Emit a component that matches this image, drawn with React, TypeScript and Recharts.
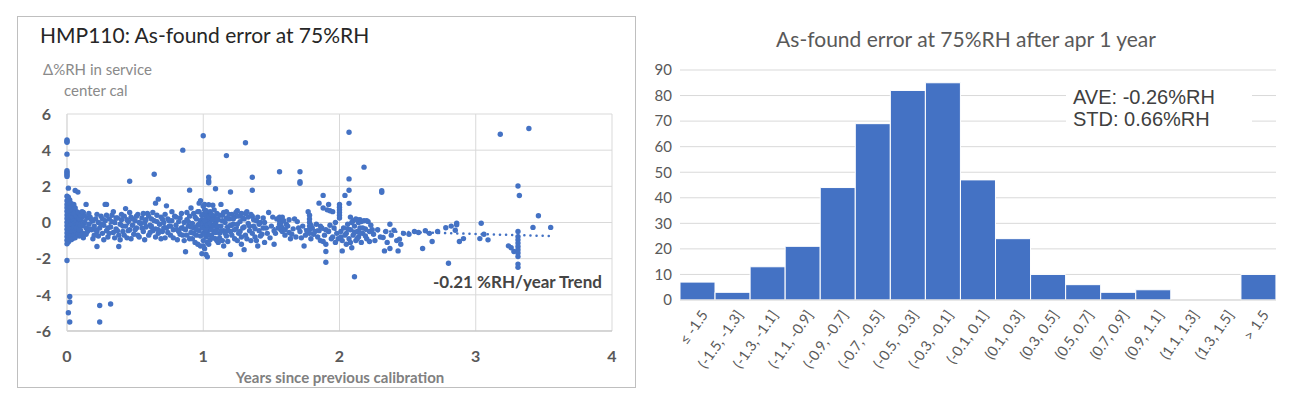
import React from 'react'
import { ScatterChart, Scatter, BarChart, Bar, XAxis, YAxis, CartesianGrid } from 'recharts'

// scatter readings [years since previous cal, delta %RH]
const atZero: [number, number][] = [
  [0, 4.57], [0, 4.5], [0, 4.44], [0, 3.78], [0, 2.86], [0, 2.78], [0, 2.7], [0, 2.62], [0, 2.55],
  [0.01, 1.9], [0, 1.45], [0.01, 1.32], [0, 1.2], [0.01, 1.1], [0, 1.0], [0.01, 0.92], [0, 0.82],
  [0.01, 0.72], [0, 0.62], [0.01, 0.52], [0, 0.42], [0.01, 0.32], [0, 0.22], [0.01, 0.12], [0, 0.02],
  [0.01, -0.08], [0, -0.18], [0.01, -0.28], [0, -0.38], [0.01, -0.48], [0, -0.58], [0.01, -0.68],
  [0, -0.78], [0.01, -0.88], [0, -0.98], [0.01, -1.08], [0, -1.18], [0, -2.1],
  [0.02, -4.09], [0.02, -4.4], [0.01, -4.99], [0.02, -5.5],
  [0.02, 1.25], [0.03, 1.05], [0.02, 0.85], [0.03, 0.65], [0.02, 0.45], [0.03, 0.25], [0.02, 0.05],
  [0.03, -0.15], [0.02, -0.35], [0.03, -0.55], [0.02, -0.75], [0.03, -0.95], [0.04, 0.9], [0.04, 0.5],
  [0.04, 0.1], [0.04, -0.3], [0.04, -0.7], [0.05, 0.7], [0.05, 0.3], [0.05, -0.1], [0.05, -0.5],
  [0.06, 1.77], [0.08, 1.68], [0.06, 0.4], [0.06, -0.2], [0.07, 0.6], [0.07, 0.0], [0.07, -0.6],
  [0.08, 0.2], [0.08, -0.35], [0.09, 0.45], [0.09, -0.05], [0.09, -0.75], [0.1, 0.15], [0.1, -0.45],
  [0.11, 0.3], [0.11, -0.2], [0.12, 0.55], [0.12, -0.1], [0.12, -0.6], [0.13, 0.05], [0.14, 1.0],
  [0.14, -0.3], [0.15, 0.25], [0.15, -0.5],
  [0.01, 1.4], [0.02, 1.05], [0.01, 0.0], [0.02, 0.6], [0.02, -0.15], [0.03, 0.85], [0.03, 0.4],
  [0.03, -0.35], [0.03, -0.75], [0.04, 0.7], [0.04, 0.3], [0.04, -0.1], [0.04, -0.5], [0.04, -0.9],
  [0.05, 1.0], [0.05, 0.5], [0.05, 0.1], [0.05, -0.3], [0.05, -0.7], [0.06, 0.8], [0.06, 0.0],
  [0.06, -0.45], [0.06, -0.85], [0.07, 0.35], [0.07, -0.3], [0.08, 0.55], [0.08, -0.1], [0.08, -0.65],
  [0.09, 0.2], [0.09, -0.4], [0.1, 0.4], [0.1, -0.15], [0.1, -0.7],
]

const firstYear: [number, number][] = [
  [0.16, -0.1], [0.17, 0.3], [0.18, -0.4], [0.19, 0.1], [0.2, -0.7], [0.2, -0.2], [0.21, 0.2],
  [0.22, -1.33], [0.22, -0.5], [0.23, 0.0], [0.24, -0.3], [0.24, -4.59], [0.24, -5.5], [0.25, 0.35],
  [0.26, -0.6], [0.27, -0.15], [0.28, 1.0], [0.29, 1.0], [0.28, 0.1], [0.29, -0.45], [0.3, -0.8],
  [0.31, 0.2], [0.32, -4.51], [0.32, -0.25], [0.33, 0.4], [0.34, -0.55], [0.35, 0.0], [0.36, -0.35],
  [0.37, 0.25], [0.38, -1.33], [0.38, -0.7], [0.39, -0.1], [0.4, 0.15], [0.41, -0.5], [0.42, 0.35],
  [0.43, 0.77], [0.43, -0.2], [0.44, -0.85], [0.45, 0.05], [0.46, 2.28], [0.46, -0.4], [0.47, 0.3],
  [0.48, -0.15], [0.49, -0.65], [0.5, 0.1], [0.51, -0.3], [0.52, 0.45], [0.53, -0.8], [0.54, -0.05],
  [0.55, 0.25], [0.56, -0.5], [0.57, 0.0], [0.58, -0.25], [0.59, 0.5], [0.6, -0.7], [0.61, -0.15],
  [0.62, 0.2], [0.63, -0.45], [0.64, 2.67], [0.64, 0.1], [0.65, 1.07], [0.65, -0.35], [0.66, 0.4],
  [0.67, 1.29], [0.67, -0.6], [0.68, -0.1], [0.69, 0.3], [0.7, -0.5], [0.71, 0.0], [0.72, -0.85],
  [0.73, 0.92], [0.73, -0.3], [0.74, 0.2], [0.75, -0.2], [0.76, -0.7], [0.77, 0.1], [0.78, -0.4],
  [0.79, 0.35], [0.8, -0.15], [0.81, -0.95], [0.82, -0.5], [0.83, 0.25], [0.84, -0.3], [0.85, 4.0],
  [0.85, -0.7], [0.86, 0.0], [0.87, -1.62], [0.87, -0.4], [0.88, 0.15], [0.89, -0.2], [0.9, 1.79],
  [0.9, -0.9], [0.9, 0.35], [0.91, -0.55], [0.92, -0.05], [0.93, 0.5], [0.93, -0.3], [0.94, -1.1],
  [0.95, 0.2], [0.95, -0.7], [0.96, -0.15], [0.97, 1.07], [0.97, 0.6], [0.97, -0.45], [0.98, 0.1],
  [0.98, -1.3], [0.99, -1.73], [0.99, -0.25], [0.99, 0.4],
  [0.11, 0.6], [0.12, -0.85], [0.13, 0.35], [0.14, -0.65], [0.16, 0.5], [0.17, -0.35], [0.18, 0.15],
  [0.19, -0.9], [0.21, -0.4], [0.22, 0.45], [0.23, -0.75], [0.25, -0.1], [0.26, 0.2], [0.27, -0.95],
  [0.29, 0.4], [0.3, -0.3], [0.31, -0.6], [0.33, 0.05], [0.34, 0.6], [0.35, -0.85], [0.36, 0.25],
  [0.37, -0.45], [0.39, -0.95], [0.4, 0.45], [0.41, -0.2], [0.42, -0.7], [0.44, 0.15], [0.45, -0.45],
  [0.46, 0.55], [0.47, -0.9], [0.48, 0.2], [0.5, -0.4], [0.51, 0.35], [0.52, -0.7], [0.53, 0.0],
  [0.55, -0.3], [0.56, 0.5], [0.57, -0.95], [0.58, 0.15], [0.6, 0.35], [0.61, -0.55], [0.62, -0.25],
  [0.63, 0.55], [0.65, -0.8], [0.66, 0.05], [0.67, -0.4], [0.69, -0.9], [0.7, 0.2], [0.71, -0.3],
  [0.72, 0.45], [0.74, -0.55], [0.75, 0.1], [0.76, -0.2], [0.77, 0.6], [0.78, -0.85], [0.8, 0.3],
  [0.81, -0.4], [0.82, 0.05], [0.83, -0.65], [0.84, 0.5], [0.86, -1.0], [0.86, -0.35], [0.88, -0.7],
  [0.88, 0.55], [0.89, 0.05], [0.91, -0.25], [0.91, 0.8], [0.92, -0.9], [0.93, -0.6], [0.94, 0.3],
  [0.95, -0.4], [0.96, 0.6], [0.96, -1.2], [0.97, -0.1], [0.98, -0.75], [0.98, 1.2], [0.99, 0.15],
]

const secondYear: [number, number][] = [
  [1.0, 4.8], [1.0, 0.9], [1.0, 0.0], [1.0, -0.6], [1.0, -1.0], [1.01, 0.7], [1.01, -0.35],
  [1.01, -1.45], [1.02, 0.3], [1.02, -0.1], [1.02, -0.8], [1.02, -1.77], [1.03, -1.9], [1.03, 0.5],
  [1.03, -0.5], [1.04, 2.5], [1.04, 2.3], [1.04, 2.2], [1.04, 0.98], [1.04, 0.1], [1.04, -1.2],
  [1.05, -0.3], [1.05, 0.6], [1.06, -0.7], [1.06, 0.2], [1.07, -0.15], [1.07, 0.95], [1.08, -0.5],
  [1.08, 0.35], [1.09, 1.87], [1.09, -0.9], [1.09, 0.0], [1.1, -0.35], [1.1, 0.5], [1.11, -1.1],
  [1.11, 0.15], [1.12, -0.6], [1.13, 1.0], [1.13, -0.2], [1.14, 0.4], [1.15, -0.45], [1.15, -1.3],
  [1.16, 0.0], [1.17, 3.7], [1.17, -0.75], [1.17, 0.6], [1.18, -0.25], [1.19, 0.2], [1.2, 1.69],
  [1.2, -1.77], [1.2, -0.5], [1.21, 0.45], [1.22, -0.1], [1.23, -0.9], [1.23, 0.3], [1.24, -0.35],
  [1.25, 0.65], [1.26, -0.6], [1.27, 0.05], [1.28, -1.2], [1.28, 0.5], [1.29, -0.3], [1.3, -1.5],
  [1.3, 0.2], [1.31, 4.41], [1.31, -0.7], [1.32, 0.6], [1.33, -0.05], [1.34, -0.45], [1.35, -1.0],
  [1.36, 2.5], [1.36, 1.78], [1.36, 0.35], [1.37, -0.2], [1.38, -0.8], [1.39, 0.1], [1.4, -1.3],
  [1.41, -0.45], [1.42, 0.0], [1.43, -0.65], [1.44, 0.25], [1.45, -1.1], [1.46, -0.3], [1.48, 0.55],
  [1.49, -0.85], [1.5, -0.2], [1.52, -1.2], [1.53, -0.6], [1.54, 0.2], [1.56, 2.81], [1.56, 0.3],
  [1.56, 0.1], [1.56, -0.1], [1.57, 0.2], [1.57, 0.0], [1.57, -0.2], [1.57, -0.4], [1.58, 0.3],
  [1.58, -0.3], [1.58, -0.5], [1.6, -0.7], [1.61, -0.1], [1.63, -0.55], [1.63, 0.15], [1.64, -0.9],
  [1.66, -0.35], [1.68, -0.8], [1.69, 0.05], [1.71, 2.81], [1.71, 2.26], [1.71, 2.17], [1.71, -0.5],
  [1.73, -0.2], [1.74, -1.3], [1.75, -0.7], [1.77, 0.6], [1.78, 0.4], [1.78, 0.2], [1.78, 0.0],
  [1.78, -0.2], [1.78, -0.4], [1.78, -0.6], [1.79, -0.9], [1.8, -0.3], [1.81, -0.65], [1.83, -0.1],
  [1.84, -0.8], [1.85, 1.07], [1.85, -0.45], [1.86, -1.0], [1.87, -0.3], [1.88, 1.5], [1.88, 0.8],
  [1.89, -0.7], [1.9, -1.6], [1.9, -2.2], [1.9, -1.2], [1.91, 0.7], [1.92, 1.0], [1.92, -0.5],
  [1.93, 0.65], [1.94, -0.9], [1.95, 0.6], [1.96, -0.3], [1.97, -1.1], [1.98, -0.6],
  [1.0, -0.3], [1.0, 0.45], [1.0, -1.3], [1.01, 0.1], [1.01, -0.65], [1.01, 1.0], [1.02, -0.4],
  [1.02, 0.65], [1.03, -0.15], [1.03, -1.1], [1.04, 0.35], [1.04, -0.7], [1.05, -0.05], [1.05, -0.95],
  [1.06, 0.45], [1.06, -0.4], [1.07, 0.15], [1.07, -0.85], [1.08, -0.2], [1.08, 0.7], [1.09, -0.55],
  [1.1, 0.2], [1.1, -1.0], [1.11, -0.2], [1.12, 0.4], [1.12, -0.85], [1.13, -0.45], [1.14, 0.1],
  [1.14, -1.0], [1.15, 0.55], [1.16, -0.6], [1.17, 0.25], [1.18, -0.45], [1.18, -1.05], [1.19, 0.45],
  [1.2, -0.15], [1.21, -0.7], [1.22, 0.2], [1.23, -0.4], [1.24, 0.55], [1.25, -1.0], [1.25, -0.1],
  [1.26, 0.35], [1.27, -0.5], [1.28, -0.8], [1.29, 0.25], [1.3, -0.25], [1.31, 0.5], [1.32, -0.9],
  [1.33, 0.3], [1.34, -0.2], [1.35, 0.45], [1.36, -0.6], [1.37, 0.15], [1.38, -0.35], [1.39, -1.0],
  [1.4, 0.3], [1.41, -0.1], [1.42, -0.75], [1.44, -0.3], [1.45, 0.0], [1.47, -0.6],
  [1.51, 0.3], [1.52, -0.45], [1.55, -0.3], [1.59, 0.1], [1.6, -0.4], [1.62, -0.2], [1.65, -0.65],
  [1.67, 0.2], [1.7, -0.3], [1.72, -0.85], [1.76, -0.45], [1.79, -0.15], [1.82, -0.5], [1.86, -0.2],
  [1.88, -1.05], [1.9, -0.4], [1.93, -0.15], [1.95, -0.8], [1.97, 0.0], [1.99, -0.9],
]

const laterYears: [number, number][] = [
  [2.0, 1.0], [2.0, 0.85], [2.0, 0.7], [2.0, 0.55], [2.0, 0.4], [2.0, 0.25], [2.01, -0.5],
  [2.01, -0.8], [2.02, -1.0], [2.02, -1.57], [2.03, -0.3], [2.04, 1.5], [2.05, -0.6], [2.05, -1.2],
  [2.06, -0.1], [2.07, 4.99], [2.07, 2.41], [2.07, 1.78], [2.07, 1.06], [2.07, -0.9], [2.08, 0.3],
  [2.08, -0.4], [2.09, -1.4], [2.1, 0.1], [2.1, -0.7], [2.11, -3.0], [2.11, -0.2], [2.12, 0.2],
  [2.12, -1.0], [2.13, -0.5], [2.14, 0.0], [2.14, -0.8], [2.15, 0.15], [2.15, -0.3], [2.16, -1.1],
  [2.17, -0.6], [2.18, 3.06], [2.18, 0.1], [2.19, -0.35], [2.2, -0.9], [2.21, 0.05], [2.22, -0.5],
  [2.23, -0.15], [2.25, -0.65], [2.26, -1.0], [2.28, -0.4], [2.3, -0.8], [2.31, 1.76], [2.31, 1.67],
  [2.32, -0.83], [2.33, -1.57], [2.34, -0.5], [2.35, -1.1], [2.37, -1.44], [2.37, -0.1], [2.38, -0.7],
  [2.4, -0.43], [2.42, -1.0], [2.43, -1.57], [2.44, -0.92], [2.45, -1.2], [2.47, -0.6], [2.51, -0.65],
  [2.55, -0.5], [2.58, -0.55], [2.61, -1.44], [2.63, -0.45], [2.66, -0.6], [2.68, -1.05], [2.72, -0.5],
  [2.78, -0.29], [2.8, -2.25], [2.82, -0.2], [2.85, -0.43], [2.86, -0.04], [2.86, -0.13], [2.88, -1.05],
  [2.91, -0.89], [3.03, -0.89], [3.04, -0.04], [3.06, -0.65], [3.09, -0.96], [3.18, 4.88], [3.24, -1.29],
  [3.26, -1.4], [3.28, -1.6], [3.31, 2.02], [3.32, 1.49], [3.31, -0.5], [3.31, -0.78], [3.31, -0.96],
  [3.31, -1.14], [3.31, -1.33], [3.31, -1.51], [3.31, -1.69], [3.31, -1.88], [3.31, -2.3], [3.31, -2.48],
  [3.39, 5.2], [3.42, -0.27], [3.46, 0.37], [3.55, -0.27],
  [2.04, -0.7], [2.06, -0.35], [2.08, -1.1], [2.09, 0.0], [2.11, -0.55], [2.13, 0.15], [2.13, -0.9],
  [2.15, -0.6], [2.16, 0.05], [2.17, -0.3], [2.19, -0.75], [2.2, 0.1], [2.22, -1.05], [2.24, -0.4],
]

// linear trend, -0.21 %RH/year
const trendEnds: [number, number][] = [[0, 0], [3.55, -0.75]]

const yearTicks = [0, 1, 2, 3, 4]
const errorTicks = [-6, -4, -2, 0, 2, 4, 6]

// histogram
const binLabels = [
  '≤ -1.5', '(-1.5, -1.3]', '(-1.3, -1.1]', '(-1.1, -0.9]', '(-0.9, -0.7]', '(-0.7, -0.5]',
  '(-0.5, -0.3]', '(-0.3, -0.1]', '(-0.1, 0.1]', '(0.1, 0.3]', '(0.3, 0.5]', '(0.5, 0.7]',
  '(0.7, 0.9]', '(0.9, 1.1]', '(1.1, 1.3]', '(1.3, 1.5]', '> 1.5',
]
const binCounts = [7, 3, 13, 21, 44, 69, 82, 85, 47, 24, 10, 6, 3, 4, 0, 0, 10]
const countTicks = [0, 10, 20, 30, 40, 50, 60, 70, 80, 90]

const BLUE = '#4472C4'

const toPoints = (rows: [number, number][]) => rows.map(([x, y]) => ({ x, y }))
const scatterData = toPoints([...atZero, ...firstYear, ...secondYear, ...laterYears])
const histData = binLabels.map((bin, i) => ({ bin, count: binCounts[i] }))

const Dot = (props: any) => <circle cx={props.cx} cy={props.cy} r={2.7} fill={BLUE} />

const BinTick = (props: any) => {
  const { x, y, payload } = props
  return (
    <g transform={`translate(${x + 7},${y + 4})`}>
      <text x={0} y={0} dy="0.35em" textAnchor="end" transform="rotate(-55)" fill="#595959" fontSize={14.5}>
        {payload.value}
      </text>
    </g>
  )
}

export default function App() {
  return (
    <div style={{ position: 'absolute', left: 0, top: 0, width: 1300, height: 400, background: '#fff', fontFamily: 'Lato, sans-serif' }}>
      {/* left panel */}
      <div style={{ position: 'absolute', left: 17, top: 16, width: 619, height: 372, border: '1px solid #bfbfbf', boxSizing: 'border-box' }} />
      <div style={{ position: 'absolute', left: 0, top: 0 }}>
        <ScatterChart width={640} height={400} margin={{ top: 114, right: 28, bottom: 39, left: 27 }}>
          <CartesianGrid stroke="#d9d9d9" />
          <XAxis
            type="number"
            dataKey="x"
            domain={[0, 4]}
            ticks={yearTicks}
            height={30}
            tickLine={false}
            tickMargin={14}
            axisLine={{ stroke: '#bfbfbf' }}
            tick={{ fill: '#595959', fontSize: 16, fontWeight: 700 }}
          />
          <YAxis
            type="number"
            dataKey="y"
            domain={[-6, 6]}
            ticks={errorTicks}
            width={40}
            tickLine={false}
            tickMargin={10}
            axisLine={{ stroke: '#d9d9d9' }}
            tick={{ fill: '#595959', fontSize: 16, fontWeight: 700 }}
          />
          <Scatter data={scatterData} shape={Dot} isAnimationActive={false} />
          <Scatter
            data={toPoints(trendEnds)}
            line={{ stroke: BLUE, strokeWidth: 2.5, strokeDasharray: '0.1 6', strokeLinecap: 'round' }}
            shape={() => <g />}
            isAnimationActive={false}
          />
        </ScatterChart>
      </div>
      <div style={{ position: 'absolute', left: 40, top: 22, fontSize: 21, lineHeight: '26px', color: '#262626' }}>
        HMP110: As-found error at 75%RH
      </div>
      <div style={{ position: 'absolute', left: 43, top: 59, fontSize: 15, lineHeight: '21px', color: '#8a8a8a' }}>
        Δ%RH in service
      </div>
      <div style={{ position: 'absolute', left: 64, top: 80, fontSize: 15, lineHeight: '21px', color: '#8a8a8a' }}>
        center cal
      </div>
      <div style={{ position: 'absolute', left: 433, top: 271, fontSize: 17, lineHeight: '22px', color: '#454545', fontWeight: 700 }}>
        -0.21 %RH/year Trend
      </div>
      <div style={{ position: 'absolute', left: 140, top: 366, width: 400, textAlign: 'center', fontSize: 15, lineHeight: '22px', color: '#808080', fontWeight: 700 }}>
        Years since previous calibration
      </div>

      {/* right panel */}
      <div style={{ position: 'absolute', left: 766, top: 26, width: 400, textAlign: 'center', fontSize: 21, lineHeight: '26px', color: '#595959' }}>
        As-found error at 75%RH after apr 1 year
      </div>
      <div style={{ position: 'absolute', left: 640, top: 0 }}>
        <BarChart width={660} height={400} data={histData} barCategoryGap={0} margin={{ top: 70, right: 24, bottom: 0, left: 10 }}>
          <CartesianGrid stroke="#d9d9d9" vertical={false} />
          <XAxis dataKey="bin" interval={0} height={100} tickLine={false} axisLine={{ stroke: '#d9d9d9' }} tick={<BinTick />} />
          <YAxis
            domain={[0, 90]}
            ticks={countTicks}
            width={30}
            tickLine={false}
            axisLine={false}
            tick={{ fill: '#595959', fontSize: 15 }}
          />
          <Bar dataKey="count" fill={BLUE} stroke="#ffffff" strokeWidth={1} isAnimationActive={false} />
        </BarChart>
      </div>
      <div style={{ position: 'absolute', left: 1066, top: 84, width: 186, height: 48, background: '#fff' }} />
      <div style={{ position: 'absolute', left: 1073, top: 86, fontSize: 20, lineHeight: '23px', color: '#404040', fontFamily: 'Liberation Sans, Arial, sans-serif' }}>
        AVE: -0.26%RH
      </div>
      <div style={{ position: 'absolute', left: 1073, top: 108, fontSize: 20, lineHeight: '23px', color: '#404040', fontFamily: 'Liberation Sans, Arial, sans-serif' }}>
        STD: 0.66%RH
      </div>
    </div>
  )
}
